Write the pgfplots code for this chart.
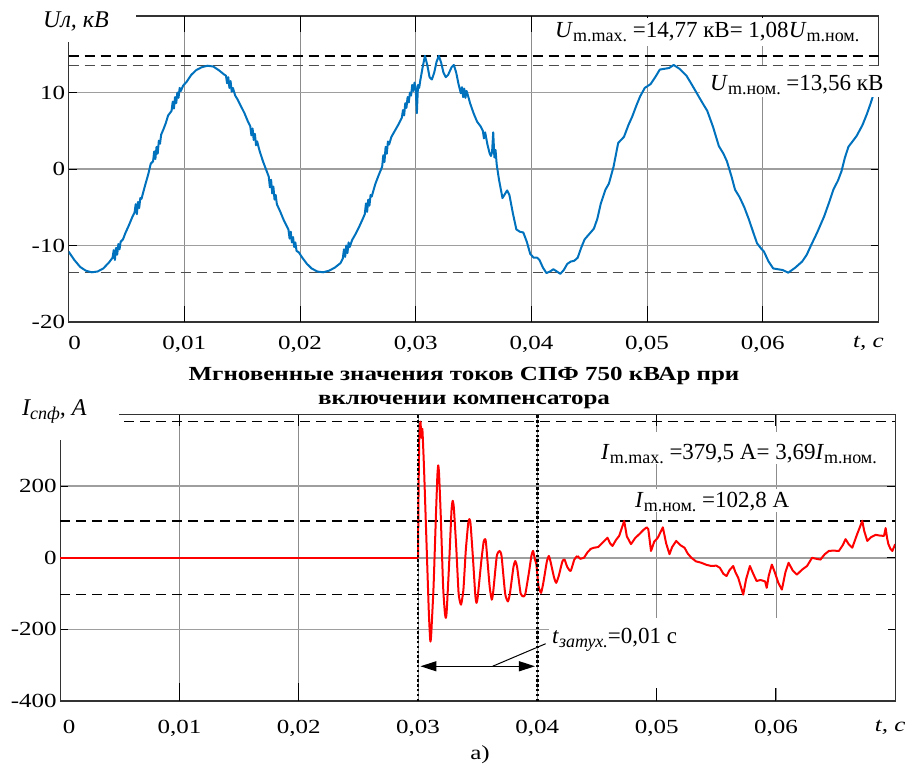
\documentclass[border=0pt]{standalone}
\usepackage{fontspec}
\setmainfont{Liberation Serif}
\newfontfamily\tickfont[FakeStretch=1.25]{Liberation Serif}
\usepackage{pgfplots}
\pgfplotsset{compat=1.18}
\usetikzlibrary{arrows.meta}
\definecolor{mblue}{RGB}{0,114,189}
\newcommand{\sub}[1]{\raisebox{-4.5pt}{\fontsize{18}{19}\selectfont #1}}
\newcommand{\ann}{\fontsize{23}{25}\selectfont}
\pgfplotsset{
 common/.style={
  scale only axis, xmin=0, xmax=0.07,
  scaled x ticks=false, scaled y ticks=false,
  axis line style={black!80, line width=1.1pt},
  xtick={0,0.01,0.02,0.03,0.04,0.05,0.06,0.07},
  xtick style={draw=none},
  ytick style={black, line width=1pt},
  major tick length=8pt, tick align=inside,
  xmajorgrids, ymajorgrids,
  x grid style={black!45, line width=0.8pt},
  y grid style={black!38, line width=1.5pt},
  tick label style={font=\fontsize{20}{22}\selectfont\tickfont},
 }
}
\begin{document}
\begin{tikzpicture}
\path[use as bounding box] (0,0) rectangle (910pt,-766pt);
% ---------------- top axis ----------------
\begin{axis}[common,
  at={(68.6pt,-322pt)}, anchor=south west,
  width=809.9pt, height=306pt,
  ymin=-20, ymax=20,
  ytick={-20,-10,0,10,20},
  yticklabels={-20,-10,0,10,{}},
  xticklabel style={yshift=-11pt},
  xticklabels={{\hspace*{12pt}0},{0,01},{0,02},{0,03},{0,04},{0,05},{0,06},{\hspace*{-20pt}\itshape t, с}},
]
\addplot[black, line width=1.2pt, dash pattern=on 10pt off 6pt] coordinates {(0,14.77) (0.07,14.77)};
\addplot[black!70, line width=1.2pt, dash pattern=on 10pt off 6pt] coordinates {(0,13.56) (0.07,13.56)};
\addplot[black!70, line width=1.2pt, dash pattern=on 10pt off 6pt] coordinates {(0,-13.56) (0.07,-13.56)};
\pgfplotsinvokeforeach{0.01,0.02,0.03,0.04,0.05,0.06}{
  \draw[black, line width=1pt] (axis cs:#1,-20) -- ([yshift=16pt]axis cs:#1,-20);
  \draw[black, line width=1pt] (axis cs:#1,20) -- ([yshift=-16pt]axis cs:#1,20);
}
\addplot[mblue, line width=2pt, line join=round] coordinates {
(0,-10.8) (0.0005,-11.9) (0.001,-12.8) (0.0015,-13.3) (0.002,-13.5) (0.0025,-13.4) (0.003,-13.0) (0.0035,-12.2)
(0.0038,-11.6) (0.0039,-10.6) (0.0040,-11.9) (0.0041,-10.3) (0.0042,-11.2) (0.0043,-9.8) (0.0044,-10.5) (0.0045,-9.5) (0.0047,-9.2) (0.0049,-8.4)
(0.0052,-7.4) (0.0055,-6.3)
(0.0057,-5.7) (0.0058,-4.6) (0.0059,-5.9) (0.0060,-4.3) (0.0061,-5.1) (0.0062,-3.8) (0.0063,-3.9)
(0.0066,-2.2) (0.0069,-0.6) (0.0071,0.7)
(0.0073,1.0) (0.0074,2.3) (0.0075,1.3) (0.0076,2.9) (0.0077,2.0) (0.0078,3.7) (0.0079,3.3) (0.0080,4.5) (0.0082,5.2) (0.0084,6.0) (0.0086,7.0)
(0.0089,7.6) (0.0090,8.8) (0.0091,7.9) (0.0092,9.4) (0.0093,8.6) (0.0094,10.0) (0.0095,9.3) (0.0096,10.6) (0.0097,10.2) (0.0099,10.9)
(0.0102,11.4) (0.0106,12.3) (0.011,12.9) (0.0115,13.3) (0.012,13.5) (0.0125,13.4) (0.013,12.9) (0.0134,12.4)
(0.0136,12.2) (0.0137,11.2) (0.0138,12.0) (0.0139,10.6) (0.0140,11.5) (0.0141,10.1) (0.0142,10.6) (0.0144,9.6) (0.0146,9.1) (0.0149,8.2) (0.0152,7.3) (0.0155,6.2)
(0.0157,5.6) (0.0158,4.4) (0.0159,5.3) (0.0160,3.8) (0.0161,4.6) (0.0162,3.1) (0.0163,3.6) (0.0165,2.4) (0.0168,1.0) (0.0171,-0.2)
(0.0173,-1.0) (0.0174,-2.4) (0.0175,-1.4) (0.0176,-3.2) (0.0177,-2.3) (0.0178,-4.0) (0.0179,-3.4) (0.0180,-4.6) (0.0183,-5.6) (0.0186,-6.7) (0.0189,-7.6)
(0.0190,-7.9) (0.0191,-9.1) (0.0192,-8.2) (0.0193,-9.6) (0.0194,-8.9) (0.0195,-10.2) (0.0196,-9.6) (0.0197,-10.7) (0.0199,-10.9)
(0.0202,-11.6) (0.0206,-12.4) (0.021,-13.0) (0.0215,-13.4) (0.022,-13.5) (0.0225,-13.3) (0.023,-12.9) (0.0235,-12.3)
(0.0237,-11.7) (0.0238,-10.5) (0.0239,-11.5) (0.0240,-10.0) (0.0241,-11.0) (0.0242,-9.6) (0.0243,-10.2) (0.0245,-9.3) (0.0248,-8.5) (0.0251,-7.6) (0.0254,-6.6)
(0.0256,-5.9) (0.0257,-4.5) (0.0258,-5.6) (0.0259,-4.0) (0.026,-4.8) (0.0261,-3.4) (0.0262,-3.6) (0.0265,-2.0) (0.0268,-0.8)
(0.0271,0.3) (0.0272,1.8) (0.0273,0.9) (0.0274,2.9) (0.0275,2.0) (0.0276,3.6) (0.0277,3.2) (0.0279,4.2) (0.0282,5.0) (0.0285,5.8)
(0.0288,6.7) (0.0289,7.7) (0.029,7.0) (0.0291,8.6) (0.0292,8.0) (0.0293,9.4) (0.0294,8.7) (0.0295,10.0) (0.0296,9.6) (0.0297,11.0) (0.0298,10.2) (0.0299,11.3) (0.0300,10.5) (0.0301,7.3) (0.0302,11.0) (0.0303,10.6) (0.0304,11.6)
(0.0306,13.3) (0.0308,14.8) (0.031,13.6) (0.0312,12.0) (0.0314,11.7) (0.0316,12.6) (0.0318,14.0) (0.032,14.8) (0.0322,13.9) (0.0324,12.6) (0.0326,12.0) (0.0328,12.3) (0.0331,13.3) (0.0333,13.6) (0.0335,12.6) (0.0337,11.1)
(0.0339,9.9) (0.034,10.7) (0.0341,9.4) (0.0342,10.5) (0.0343,9.3) (0.0344,10.2) (0.0345,9.7) (0.0347,8.6) (0.035,7.3) (0.0353,6.2) (0.0356,5.6) (0.0358,5.0) (0.0359,4.0) (0.036,4.8) (0.0362,3.2) (0.0364,2.0) (0.0365,1.7) (0.0366,2.2) (0.0367,4.8) (0.0368,1.5) (0.0369,2.5) (0.037,0.6)
(0.0372,-1.4) (0.0374,-3.0) (0.0375,-3.8) (0.0377,-3.3) (0.0379,-2.8) (0.0381,-3.4) (0.0384,-5.8) (0.0387,-7.9) (0.039,-8.2) (0.0393,-8.3) (0.0396,-9.5) (0.0399,-11.1) (0.0402,-11.6) (0.0405,-11.6) (0.0407,-11.9)
(0.041,-12.9) (0.0413,-13.6) (0.0416,-13.4) (0.0419,-13.1) (0.0422,-13.4) (0.0425,-13.7) (0.0428,-13.2) (0.0431,-12.4) (0.0434,-12.1) (0.0437,-12.0) (0.044,-11.6) (0.0443,-10.3) (0.0446,-9.2) (0.045,-8.5) (0.0454,-7.8) (0.0457,-6.5) (0.046,-4.5) (0.0464,-2.7) (0.0467,-1.9)
(0.0471,0.3) (0.0475,3.4) (0.048,4.2) (0.0484,5.8) (0.0487,6.8) (0.0491,8.4) (0.0494,9.5) (0.0498,10.6) (0.0503,11.1) (0.0507,12.0) (0.0511,13.0) (0.0515,13.1) (0.0519,13.2) (0.0523,13.6) (0.0528,13.1) (0.0534,12.2) (0.0538,11.2) (0.0543,9.9) (0.0548,8.6) (0.0552,7.6) (0.0557,5.5) (0.0562,3.0) (0.0566,2.0) (0.0569,1.0)
(0.0573,-1.0) (0.0576,-2.7) (0.058,-3.7) (0.0584,-5.0) (0.0588,-6.6) (0.0592,-8.4) (0.0595,-9.7) (0.0598,-10.3) (0.0601,-10.8) (0.0605,-12.1) (0.0609,-13.0) (0.0613,-13.1) (0.0617,-13.2) (0.0622,-13.55) (0.0628,-12.9) (0.0634,-12.1) (0.0638,-11.2) (0.0641,-10.2) (0.0647,-8.3) (0.0653,-6.2) (0.0657,-4.5) (0.0661,-2.7) (0.0665,-1.5) (0.0668,-0.3)
(0.0671,1.5) (0.0674,2.9) (0.0678,3.7) (0.0681,4.3) (0.0686,5.7) (0.069,7.2) (0.0693,8.5) (0.0696,9.9)
};
\end{axis}
% ---------------- bottom axis ----------------
\begin{axis}[common,
  at={(60.2pt,-701pt)}, anchor=south west,
  width=835pt, height=286.5pt,
  ymin=-400, ymax=400,
  ytick={-400,-200,0,200,400},
  yticklabels={-400,-200,0,200,{}},
  xticklabel style={yshift=-16pt},
  xticklabels={{\hspace*{18pt}0},{0,01},{0,02},{0,03},{0,04},{0,05},{0,06},{\hspace*{-10pt}\itshape t, с}},
]
\addplot[black, line width=1.2pt, dash pattern=on 10pt off 6pt] coordinates {(0,379.5) (0.07,379.5)};
\addplot[black, line width=1.2pt, dash pattern=on 10pt off 6pt] coordinates {(0,102.8) (0.07,102.8)};
\addplot[black, line width=1.2pt, dash pattern=on 10pt off 6pt] coordinates {(0,-102.8) (0.07,-102.8)};
\pgfplotsinvokeforeach{0.01,0.02,0.05,0.06}{
  \draw[black, line width=1pt] (axis cs:#1,-400) -- ([yshift=18pt]axis cs:#1,-400);
  \draw[black, line width=1pt] (axis cs:#1,400) -- ([yshift=-11pt]axis cs:#1,400);
}
\addplot[red, line width=2pt] coordinates {(0,0) (0.0300,0)};
\addplot[red, line width=2pt, line join=round, smooth, tension=0.3] coordinates {
(0.0300,0) (0.03003,150) (0.0301,330) (0.0302,380) (0.03028,335) (0.03036,360) (0.0305,250) (0.0307,50) (0.0309,-150) (0.031,-220) (0.03104,-234) (0.0311,-215) (0.0313,-80) (0.0315,120) (0.03162,230) (0.03169,258) (0.03176,235) (0.0319,120) (0.0321,-80) (0.03225,-155) (0.03233,-168) (0.0324,-150) (0.0326,-20) (0.0328,130) (0.0329,159) (0.033,140) (0.0332,30) (0.0334,-100) (0.0336,-131) (0.0338,-90) (0.034,20) (0.0342,95) (0.0343,108) (0.0344,95) (0.0346,0) (0.0348,-105) (0.0349,-126) (0.035,-110) (0.0353,-10) (0.0355,45) (0.03562,52) (0.0357,40) (0.036,-80) (0.03618,-117) (0.0363,-95) (0.0366,5) (0.03683,19) (0.037,5) (0.0373,-100) (0.03753,-122) (0.0377,-100) (0.0380,-25) (0.03815,-9) (0.0383,-25) (0.0386,-100) (0.03885,-108) (0.039,-100) (0.0393,-40) (0.0395,5) (0.03964,19) (0.0398,-5) (0.03992,-19) (0.0401,-80) (0.04031,-98) (0.0405,-70) (0.0408,-10) (0.04096,5) (0.0411,-10) (0.0414,-55) (0.04158,-70) (0.0418,-50) (0.0421,-10) (0.04228,-5) (0.0425,-25) (0.04279,-37) (0.0431,-5) (0.04335,5)
};
\addplot[red, line width=2pt, line join=round] coordinates {
(0.04335,5) (0.0436,-3) (0.04391,0) (0.0442,15) (0.04448,25) (0.04476,28) (0.0451,30) (0.04546,42) (0.04588,56) (0.0461,40) (0.0463,33) (0.0466,50) (0.04686,61) (0.0471,85) (0.04728,103) (0.0475,60) (0.04785,38) (0.0482,55) (0.04855,66) (0.0489,78) (0.04917,85) (0.0493,80) (0.04953,19) (0.0498,45) (0.0501,56) (0.05052,85) (0.0508,40) (0.05108,10) (0.0513,30) (0.05164,47) (0.052,35) (0.05234,28) (0.0526,12) (0.05291,0) (0.0533,-10) (0.05375,-14) (0.0542,-20) (0.05459,-23) (0.055,-22) (0.0553,-28) (0.0556,-45) (0.05586,-51) (0.0561,-35) (0.05642,-23) (0.0566,-40) (0.05684,-56) (0.0571,-85) (0.05726,-103) (0.0575,-60) (0.05782,-23) (0.0581,-45) (0.05838,-65) (0.0587,-62) (0.05909,-66) (0.05923,-84) (0.0594,-50) (0.05966,-19) (0.0599,-40) (0.0602,-70) (0.0605,-89) (0.0608,-40) (0.06106,-14) (0.0614,-35) (0.06176,-47) (0.0622,-33) (0.06261,-23) (0.06303,0) (0.0634,-3) (0.06373,-5) (0.0641,10) (0.06444,19) (0.0648,20) (0.06528,19) (0.0656,35) (0.06584,52) (0.0661,38) (0.0664,28) (0.0668,65) (0.06724,103) (0.0674,75) (0.06766,47) (0.068,58) (0.06836,64) (0.0687,62) (0.06906,61) (0.0692,83) (0.06932,55) (0.06943,38) (0.0696,25) (0.06976,19) (0.0699,30) (0.0700,38)
};
\addplot[black, line width=2.4pt, dash pattern=on 2.4pt off 2.4pt] coordinates {(0.03,-400) (0.03,400)};
\addplot[black, line width=2.4pt, dash pattern=on 2.4pt off 2.4pt] coordinates {(0.04,-400) (0.04,400)};
\draw[{Triangle[length=16pt,width=10pt]}-{Triangle[length=16pt,width=10pt]}, line width=1.2pt] (axis cs:0.0302,-303) -- (axis cs:0.0398,-303);
\draw[line width=1pt] (axis cs:0.03625,-303) -- (axis cs:0.0407,-240);
\end{axis}
% ---------------- white boxes ----------------
\fill[white] (0,0) rectangle (136pt,-42pt);
\fill[white] (550pt,-17.5pt) rectangle (872pt,-46pt);
\fill[white] (700pt,-66pt) rectangle (886pt,-97pt);
\fill[white] (0,-398pt) rectangle (119pt,-440pt);
\fill[white] (598pt,-432pt) rectangle (885pt,-464pt);
\fill[white] (628pt,-489pt) rectangle (800pt,-512pt);
\fill[white] (549pt,-618pt) rectangle (888pt,-688pt);
% ---------------- texts ----------------
\node[anchor=base west, inner sep=0pt] at (43pt,-27pt) {\fontsize{24}{26}\selectfont\itshape Uл, кВ};
\node[anchor=base west, inner sep=0pt] at (22pt,-415pt) {\fontsize{24}{26}\selectfont\itshape I\raisebox{-4pt}{\fontsize{18}{19}\selectfont спф}, А};
\node[anchor=base west, inner sep=0pt] at (555pt,-37pt) {\ann\textit{U}\sub{m.max.} =14,77 кВ= 1,08\textit{U}\sub{m.ном.}};
\node[anchor=base west, inner sep=0pt] at (710pt,-90pt) {\ann\textit{U}\sub{m.ном.} =13,56 кВ};
\node[anchor=base west, inner sep=0pt] at (601pt,-459pt) {\ann\textit{I}\sub{m.max.} =379,5 А= 3,69\textit{I}\sub{m.ном.}};
\node[anchor=base west, inner sep=0pt] at (635pt,-507pt) {\ann\textit{I}\sub{m.ном.} =102,8 А};
\node[anchor=base west, inner sep=0pt] at (552pt,-643pt) {\ann\textit{t}\sub{\itshape затух.}=0,01 с};
\node[anchor=base, inner sep=0pt] at (464pt,-380pt) {\fontsize{20}{22}\selectfont\tickfont\bfseries Мгновенные значения токов СПФ 750 кВАр при};
\node[anchor=base, inner sep=0pt] at (464pt,-404pt) {\fontsize{20}{22}\selectfont\tickfont\bfseries включении компенсатора};
\node[anchor=base, inner sep=0pt] at (480pt,-759pt) {\fontsize{20}{22}\selectfont\tickfont a)};
\end{tikzpicture}
\end{document}
